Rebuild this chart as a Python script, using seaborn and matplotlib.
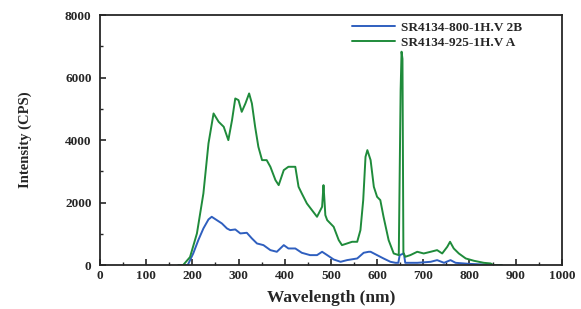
import pandas as pd
import matplotlib
matplotlib.use("Agg")
import matplotlib.pyplot as plt
import seaborn as sns
from matplotlib.ticker import MultipleLocator

# green spectrum (925 sample)
wl_a = [170, 180, 195, 210, 224, 235, 246, 257, 268, 278, 286, 293, 300, 307, 315,
        323, 329, 336, 343, 351, 361, 369, 380, 387, 398, 408, 423, 430, 437, 448,
        459, 470, 481, 484, 486, 488, 492, 506, 517, 524, 535, 546, 557, 564, 570,
        575, 579, 586, 593, 600, 607, 614, 625, 636, 647, 651, 653, 655, 657, 661,
        672, 687, 701, 716, 730, 741, 752, 758, 766, 777, 792, 810, 831, 846, 852, 870]
int_a = [0, 0, 256, 1014, 2294, 3894, 4854, 4587, 4427, 4000, 4640, 5334, 5280, 4906, 5174,
         5494, 5174, 4427, 3787, 3360, 3360, 3147, 2720, 2560, 3040, 3147, 3147, 2507, 2294, 1974,
         1760, 1547, 1867, 2560, 2100, 1600, 1440, 1227, 800, 640, 693, 747, 747, 1120, 2080,
         3467, 3680, 3360, 2507, 2187, 2080, 1547, 800, 373, 320, 5600, 6830, 6600, 400, 267,
         320, 427, 373, 427, 480, 373, 587, 747, 533, 373, 213, 138, 74, 53, 0, 0]

# blue spectrum (800 sample)
wl_b = [170, 190, 202, 213, 224, 235, 242, 253, 264, 275, 282, 293, 304, 318, 329,
        340, 354, 369, 383, 398, 408, 423, 437, 455, 470, 481, 492, 506, 521, 535,
        557, 571, 582, 586, 600, 614, 629, 640, 646, 649, 658, 661, 687, 716, 730,
        745, 759, 770, 800, 830, 840, 870]
int_b = [0, 0, 373, 800, 1174, 1462, 1547, 1440, 1334, 1174, 1120, 1142, 1014, 1035, 854,
         693, 640, 480, 427, 640, 533, 533, 395, 320, 320, 427, 320, 181, 106, 160,
         213, 395, 427, 427, 320, 213, 106, 74, 74, 320, 373, 74, 74, 106, 160,
         74, 160, 74, 40, 20, 0, 0]

labels = ["SR4134-800-1H.V 2B", "SR4134-925-1H.V A"]

df = pd.concat([
    pd.DataFrame({"Wavelength": wl_b, "Intensity": int_b, "Sample": labels[0]}),
    pd.DataFrame({"Wavelength": wl_a, "Intensity": int_a, "Sample": labels[1]}),
])

sns.set_style("ticks")
plt.rcParams["font.family"] = ["Liberation Serif", "DejaVu Serif"]
plt.rcParams["font.weight"] = "bold"

fig = plt.figure(figsize=(5.81, 3.09), dpi=100)
ax = fig.add_axes([0.172, 0.142, 0.795, 0.809])
sns.lineplot(data=df, x="Wavelength", y="Intensity", hue="Sample",
             palette=["#2f5fbf", "#1f8b3b"], linewidth=1.4, sort=False,
             estimator=None, ax=ax)

ax.set_xlim(0, 1000)
ax.set_ylim(0, 8000)
ax.xaxis.set_major_locator(MultipleLocator(100))
ax.xaxis.set_minor_locator(MultipleLocator(50))
ax.yaxis.set_major_locator(MultipleLocator(2000))
ax.yaxis.set_minor_locator(MultipleLocator(1000))
ax.tick_params(which="both", direction="in", top=False, right=False, labelsize=9.5)
ax.tick_params(which="major", length=4, width=1.2)
ax.tick_params(axis="y", pad=6)
ax.tick_params(which="minor", length=2.5, width=1)
for lab in ax.get_xticklabels() + ax.get_yticklabels():
    lab.set_fontweight("bold")
for s in ax.spines.values():
    s.set_linewidth(1.3)
    s.set_visible(True)

ax.set_xlabel("Wavelength (nm)", fontsize=12.5, fontweight="bold", labelpad=6)
ax.set_ylabel("Intensity (CPS)", fontsize=10.5, fontweight="bold", labelpad=24)
ax.legend(loc="upper left", bbox_to_anchor=(0.535, 0.995), frameon=False,
          fontsize=9.5, title=None, handlelength=3.2, handletextpad=0.5,
          borderaxespad=0, labelspacing=0.2)

fig.savefig("out.png", dpi=100)
